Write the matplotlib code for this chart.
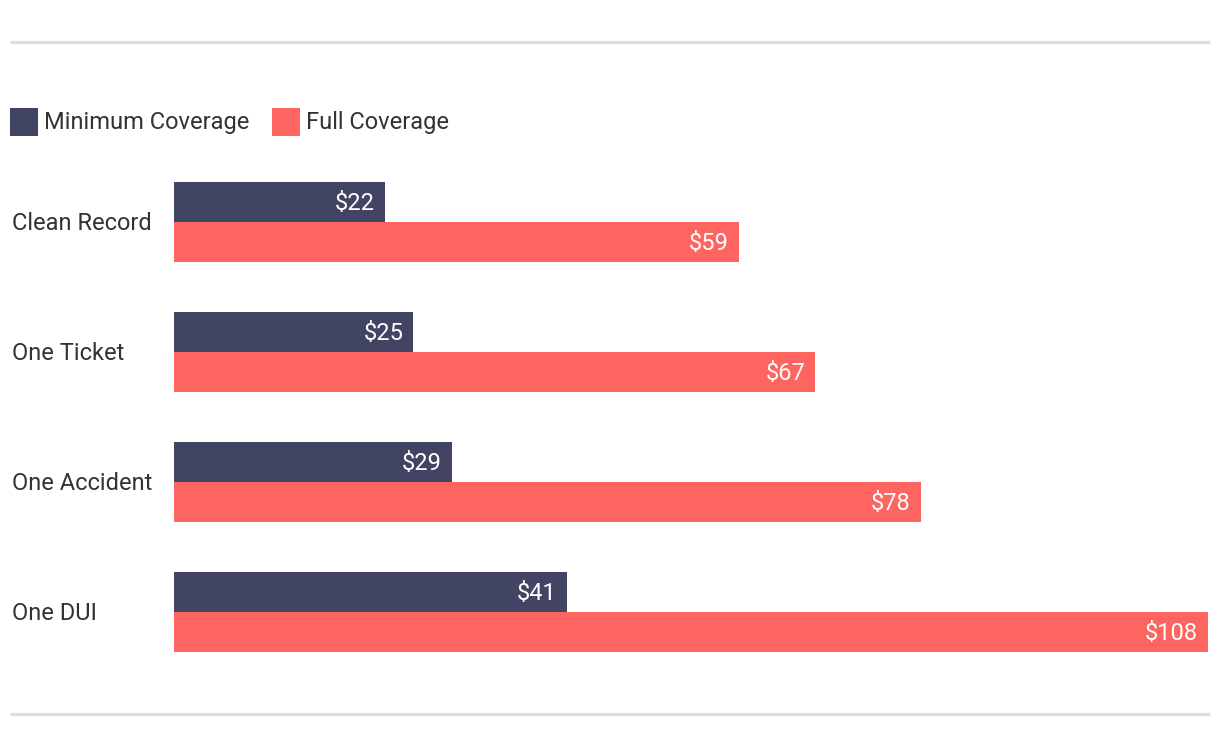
import matplotlib
matplotlib.use("Agg")
import matplotlib.pyplot as plt
from matplotlib.patches import Rectangle
from matplotlib.lines import Line2D

categories = ["Clean Record", "One Ticket", "One Accident", "One DUI"]
minimum = [22, 25, 29, 41]
full = [59, 67, 78, 108]
series_names = ["Minimum Coverage", "Full Coverage"]
colors = ["#414462", "#fe6460"]

plt.rcParams['font.family'] = ['Roboto', 'DejaVu Sans']

W, H = 1220, 748
fig = plt.figure(figsize=(W / 100, H / 100), dpi=100)

def fx(px):
    return px / W

def fy(py):
    return 1 - py / H

# axes: left 174, right 1208, top 157, bottom 677
ax = fig.add_axes([fx(174), fy(677), fx(1208) - fx(174), (677 - 157) / H])
ax.set_xlim(0, 108)
ax.set_ylim(3.5, -0.5)
ax.axis("off")

FS = 17
bh = 40 / 130
for i, (c, mv, fv) in enumerate(zip(categories, minimum, full)):
    ax.barh(i - bh / 2, mv, height=bh, color=colors[0], linewidth=0)
    ax.barh(i + bh / 2, fv, height=bh, color=colors[1], linewidth=0)
    ax.annotate(f"${mv}", xy=(mv, i - bh / 2), xytext=(-10, -1), textcoords="offset pixels",
                ha="right", va="center", color="white", fontsize=FS)
    ax.annotate(f"${fv}", xy=(fv, i + bh / 2), xytext=(-10, -1), textcoords="offset pixels",
                ha="right", va="center", color="white", fontsize=FS)
    fig.text(fx(12), fy(223.5 + 130 * i), c, ha="left", va="center", fontsize=FS, color="#333333")

# separator lines
for py in (42, 714):
    fig.add_artist(Line2D([fx(10), fx(1210)], [fy(py), fy(py)], color="#dddddd", linewidth=2.3,
                          transform=fig.transFigure, solid_capstyle="butt"))

# legend
leg_x = [10, 272]
for x0, name, col in zip(leg_x, series_names, colors):
    fig.add_artist(Rectangle((fx(x0), fy(136)), fx(28), 28 / H, color=col, transform=fig.transFigure, linewidth=0))
    fig.text(fx(x0 + 34), fy(122), name, ha="left", va="center", fontsize=FS, color="#333333")

fig.savefig("out.png", dpi=100)
